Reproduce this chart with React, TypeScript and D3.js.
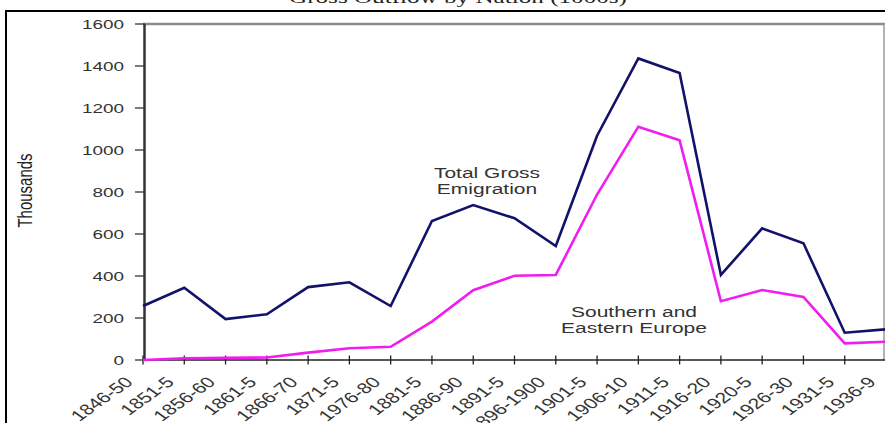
import React from "react";
import * as d3 from "d3";

const categories = [
  "1846-50", "1851-5", "1856-60", "1861-5", "1866-70", "1871-5", "1976-80",
  "1881-5", "1886-90", "1891-5", "1896-1900", "1901-5", "1906-10", "1911-5",
  "1916-20", "1920-5", "1926-30", "1931-5", "1936-9",
];
const totalGross = [
  257, 344, 195, 218, 347, 370, 257, 662, 738, 675, 543, 1068, 1436, 1367,
  405, 627, 556, 130, 146,
];
const southEast = [
  0, 8, 10, 12, 35, 56, 63, 183, 332, 401, 405, 788, 1111, 1046, 280, 333,
  300, 79, 87,
];
const yTicks = [0, 200, 400, 600, 800, 1000, 1200, 1400, 1600];

const W = 885;
const H = 423;
const SX = 1.4; // horizontal stretch of the original picture
const FONT = "'Liberation Sans', Arial, Helvetica, sans-serif";

export default function App() {
  const x = d3.scalePoint<string>().domain(categories).range([143, 886]).padding(0);
  const y = d3.scaleLinear().domain([0, 1600]).range([360, 24]);
  const line = d3
    .line<number>()
    .x((_, i) => x(categories[i]) as number)
    .y((d) => y(d));

  return (
    <svg
      width={W}
      height={H}
      style={{ position: "absolute", left: 0, top: 0, background: "#fff" }}
    >
      <rect x={0} y={0} width={W} height={H} fill="#fff" />
      {/* cropped title */}
      <text
        x={458}
        y={2.5}
        textAnchor="middle"
        fontFamily="'Liberation Serif', 'Times New Roman', serif"
        fontSize={17}
        fill="#222"
        textLength={338}
        lengthAdjust="spacingAndGlyphs"
      >
        Gross Outflow by Nation (1000s)
      </text>
      {/* outer frame */}
      <rect x={6} y={11} width={1000} height={600} fill="none" stroke="#000" strokeWidth={2} />

      {/* plot border (top, right) */}
      <line x1={143} x2={886} y1={y(1600)} y2={y(1600)} stroke="#8c8c8c" strokeWidth={2.5} />
      <line x1={884} x2={884} y1={y(1600)} y2={y(0)} stroke="#9a9a9a" strokeWidth={1.5} />

      {/* y axis */}
      <line x1={144.5} x2={144.5} y1={y(1600)} y2={y(0)} stroke="#333" strokeWidth={2.5} />
      {yTicks.map((t) => (
        <g key={t}>
          <line x1={135} x2={145} y1={y(t)} y2={y(t)} stroke="#333" strokeWidth={1.3} />
          <text
            transform={`translate(124,${y(t) + 4.8}) scale(${SX},1)`}
            textAnchor="end"
            fontFamily={FONT}
            fontSize={13.5}
            fill="#333"
          >
            {t}
          </text>
        </g>
      ))}
      <text
        transform={`translate(32,190.5) scale(${SX},1) rotate(-90)`}
        textAnchor="middle"
        fontFamily={FONT}
        fontSize={15}
        fill="#222"
      >
        Thousands
      </text>

      {/* x axis */}
      <line x1={143} x2={886} y1={y(0)} y2={y(0)} stroke="#222" strokeWidth={1.5} />
      {categories.map((c) => (
        <g key={c}>
          <line
            x1={x(c) as number}
            x2={x(c) as number}
            y1={y(0) - 4.5}
            y2={y(0) + 4.5}
            stroke="#222"
            strokeWidth={1.3}
          />
          <text
            transform={`translate(${(x(c) as number) - 9},${y(0) + 23}) scale(${SX},1) rotate(-45)`}
            textAnchor="end"
            fontFamily={FONT}
            fontSize={15}
            fill="#333"
          >
            {c}
          </text>
        </g>
      ))}

      {/* series */}
      <path d={line(southEast) || ""} fill="none" stroke="#f01cf0" strokeWidth={2.6} strokeLinejoin="miter" />
      <path d={line(totalGross) || ""} fill="none" stroke="#12126a" strokeWidth={2.6} strokeLinejoin="miter" />

      {/* annotations */}
      <g fontFamily={FONT} fontSize={15} fill="#333" textAnchor="middle">
        <text transform={`translate(487,177.5) scale(${SX},1)`}>Total Gross</text>
        <text transform={`translate(487,194) scale(${SX},1)`}>Emigration</text>
        <text transform={`translate(634,316.5) scale(${SX},1)`}>Southern and</text>
        <text transform={`translate(634,333) scale(${SX},1)`}>Eastern Europe</text>
      </g>
    </svg>
  );
}
